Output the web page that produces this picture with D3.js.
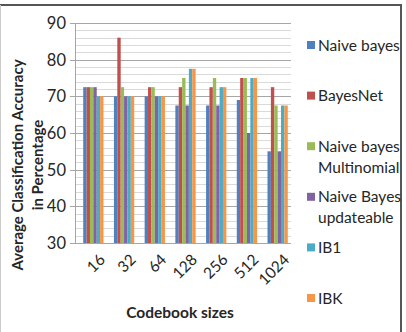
<!DOCTYPE html>
<html>
<head>
<meta charset="utf-8">
<script src="https://cdnjs.cloudflare.com/ajax/libs/d3/7.8.5/d3.min.js"></script>
<style>
  body { margin: 0; background: #fff; }
  svg { display: block; font-family: Lato, "Open Sans", sans-serif; }
</style>
</head>
<body>
<div id="chart"></div>
<script>
// codebook sizes on the x axis
const sizes = ["16", "32", "64", "128", "256", "512", "1024"];
const seriesNames = ["Naive bayes", "BayesNet", "Naive bayes\nMultinomial", "Naive Bayes\nupdateable", "IB1", "IBK"];
const colors = ["#4F81BD", "#C0504D", "#9BBB59", "#8064A2", "#4BACC6", "#F79646"];

// accuracy values, one array per classifier
const naiveBayes   = [72.5, 70, 70, 67.5, 67.5, 69, 55];
const bayesNet     = [72.5, 86, 72.5, 72.5, 72.5, 75, 72.5];
const nbMultinom   = [72.5, 72.5, 72.5, 75, 75, 75, 67.5];
const nbUpdateable = [72.5, 70, 70, 67.5, 67.5, 60, 55];
const ib1          = [70, 70, 70, 77.5, 72.5, 75, 67.5];
const ibk          = [70, 70, 70, 77.5, 72.5, 75, 67.5];
const allSeries = [naiveBayes, bayesNet, nbMultinom, nbUpdateable, ib1, ibk];

const yTicks = [30, 40, 50, 60, 70, 80, 90];

let width = 406, height = 332,
    svg = d3.select("#chart").append("svg")
        .attr("width", width)
        .attr("height", height)

//FRAME
svg.append("line").attr("x1", 0).attr("x2", 402).attr("y1", 5).attr("y2", 5)
    .attr("stroke", "#555").attr("stroke-width", 2)
svg.append("line").attr("x1", 401).attr("x2", 401).attr("y1", 5).attr("y2", height)
    .attr("stroke", "#555").attr("stroke-width", 2)
svg.append("line").attr("x1", 0.5).attr("x2", 0.5).attr("y1", 5).attr("y2", height)
    .attr("stroke", "#ccc").attr("stroke-width", 1)

//SCALES
let y = d3.scaleLinear().domain([30, 90]).range([243, 23])
let x0 = d3.scaleBand().domain(sizes).range([78, 293]).paddingInner(0.34).paddingOuter(0.17)
let x1 = d3.scaleBand().domain(d3.range(allSeries.length)).range([0, x0.bandwidth()])

//GRID
let gridL = 75, gridR = 291
svg.append("g").selectAll("line")
    .data(d3.range(32, 90, 2).filter(v => v % 10 !== 0))
    .enter().append("line")
    .attr("x1", gridL).attr("x2", gridR)
    .attr("y1", d => Math.round(y(d)) + 0.5).attr("y2", d => Math.round(y(d)) + 0.5)
    .attr("stroke", "#dadada")
svg.append("g").selectAll("line")
    .data(yTicks)
    .enter().append("line")
    .attr("x1", gridL - 5).attr("x2", gridR)
    .attr("y1", d => Math.round(y(d)) + 0.5).attr("y2", d => Math.round(y(d)) + 0.5)
    .attr("stroke", "#a6a6a6")
svg.append("line").attr("x1", gridL + 0.5).attr("x2", gridL + 0.5)
    .attr("y1", y(90)).attr("y2", y(30)).attr("stroke", "#a6a6a6")

//BARS
let groups = svg.append("g").selectAll("g")
    .data(sizes)
    .enter().append("g")
    .attr("transform", d => "translate(" + x0(d) + ",0)")
groups.selectAll("rect")
    .data((d, i) => allSeries.map((s, k) => ({k: k, v: s[i]})))
    .enter().append("rect")
    .attr("x", d => x1(d.k))
    .attr("width", x1.bandwidth())
    .attr("y", d => y(d.v))
    .attr("height", d => y(30) - y(d.v))
    .attr("fill", d => colors[d.k])

//Y TICK LABELS
svg.append("g").selectAll("text")
    .data(yTicks)
    .enter().append("text")
    .attr("x", 66).attr("y", d => y(d))
    .attr("dy", "0.36em")
    .attr("text-anchor", "end")
    .attr("font-size", 16.5)
    .attr("fill", "#262626")
    .text(d => d)

//X TICK LABELS
svg.append("g").selectAll("text")
    .data(sizes)
    .enter().append("text")
    .attr("transform", d => "translate(" + (x0(d) + x0.bandwidth() / 2 + 5) + ",253) rotate(-45)")
    .attr("dy", "0.7em")
    .attr("text-anchor", "end")
    .attr("font-size", 15.5)
    .attr("fill", "#262626")
    .text(d => d)

//AXIS TITLES
let yTitle = svg.append("text")
    .attr("transform", "translate(23,165) rotate(-90)")
    .attr("text-anchor", "middle")
    .attr("font-size", 15)
    .attr("font-weight", "bold")
    .attr("fill", "#262626")
yTitle.append("tspan").attr("x", 0).attr("dy", 0).text("Average Classification Accuracy")
yTitle.append("tspan").attr("x", 0).attr("dy", 20).text("in Percentage")

svg.append("text")
    .attr("x", 180).attr("y", 318)
    .attr("text-anchor", "middle")
    .attr("font-size", 15.5)
    .attr("font-weight", "bold")
    .attr("fill", "#262626")
    .text("Codebook sizes")

//LEGEND
let legend = svg.append("g").selectAll("g")
    .data(seriesNames)
    .enter().append("g")
    .attr("transform", (d, i) => "translate(307," + (45 + i * 50.6) + ")")
legend.append("rect")
    .attr("x", 0).attr("y", -4).attr("width", 8).attr("height", 8)
    .attr("fill", (d, i) => colors[i])
legend.each(function(d) {
    let t = d3.select(this).append("text")
        .attr("x", 11).attr("y", 0)
        .attr("font-size", 15.5)
        .attr("fill", "#262626")
    d.split("\n").forEach((line, j) => {
        t.append("tspan").attr("x", 11).attr("dy", j === 0 ? "0.36em" : 21).text(line)
    })
})
</script>
</body>
</html>
